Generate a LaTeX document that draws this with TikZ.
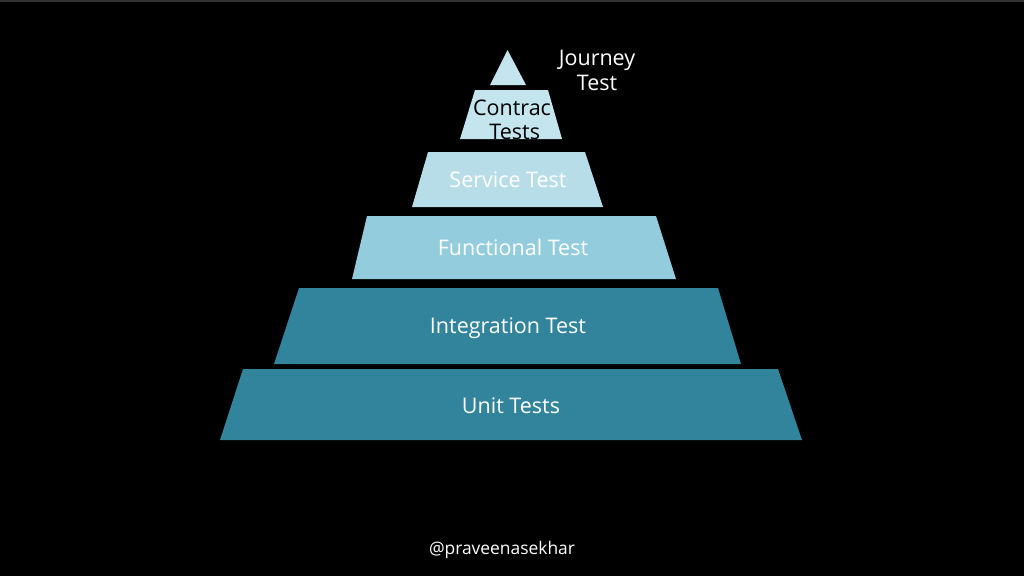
\documentclass[tikz,border=0pt]{standalone}
\usepackage{fontspec}
\setmainfont{Open Sans}
\definecolor{bgc}{HTML}{000000}
\definecolor{topc}{HTML}{C4E5EE}
\definecolor{servc}{HTML}{B7DEE8}
\definecolor{funcc}{HTML}{93CDDD}
\definecolor{tealc}{HTML}{31849B}
\begin{document}
\begin{tikzpicture}[x=1pt,y=-1pt,
  lbl/.style={font=\fontsize{21.5}{25}\selectfont, text=white, align=center},
  dlbl/.style={font=\fontsize{21.5}{24}\selectfont, text=black, align=center}]
\useasboundingbox (0,0) rectangle (1024,576);
\fill[bgc] (0,0) rectangle (1024,576);
\fill[black!80] (0,0) rectangle (1024,1.5);
% layers
\fill[topc] (507.5,50) -- (526,85) -- (490,85) -- cycle;
\fill[topc] (475,90) -- (548,90) -- (562,139) -- (460,139) -- cycle;
\fill[servc] (428,152) -- (585,152) -- (603,207) -- (412,207) -- cycle;
\fill[funcc] (367,216) -- (656,216) -- (676,279) -- (352,279) -- cycle;
\fill[tealc] (299,288) -- (718,288) -- (741,364) -- (274,364) -- cycle;
\fill[tealc] (243,369) -- (778,369) -- (802,440) -- (220,440) -- cycle;
% labels
\node[lbl] (journey) at (597,70) {Journey\\Test};
\node[dlbl] (contract) at (512,120) {Contrac\\\phantom{i}Tests};
\node[lbl] (service) at (508,180) {Service Test};
\node[lbl] (functional) at (513,247) {Functional Test};
\node[lbl] (integration) at (508,328) {Integration Test};
\node[lbl] (unit) at (511,406) {Unit Tests};
\node[font=\fontsize{17.4}{20}\selectfont, text=white] (handle) at (502,550) {@praveenasekhar};
\end{tikzpicture}
\end{document}
